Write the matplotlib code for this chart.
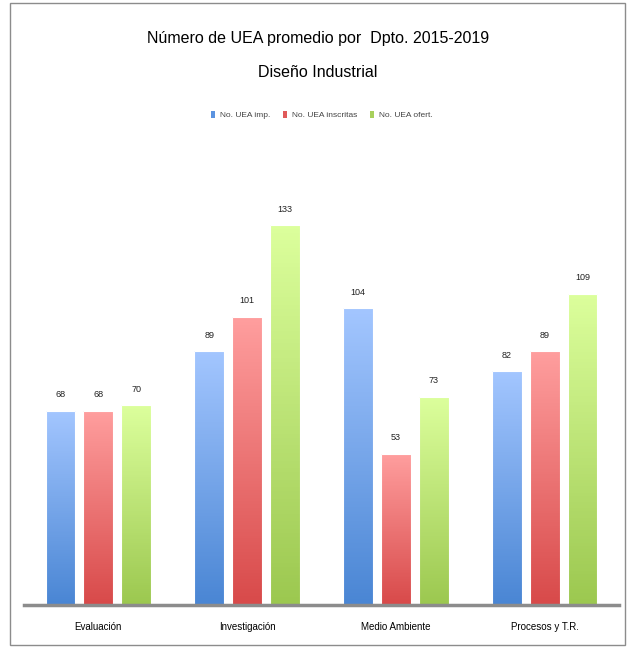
import matplotlib
matplotlib.use("Agg")
import matplotlib.pyplot as plt
import numpy as np
from matplotlib.colors import LinearSegmentedColormap
from matplotlib.patches import Rectangle

plt.rcParams['font.family'] = ['Liberation Sans', 'DejaVu Sans']

categories = ['Evaluación', 'Investigación', 'Medio Ambiente', 'Procesos y T.R.']
series_names = ['No. UEA imp.', 'No. UEA inscritas', 'No. UEA ofert.']
uea_a = [68, 89, 104, 82]
uea_b = [68, 101, 53, 89]
uea_c = [70, 133, 73, 109]
series = [uea_a, uea_b, uea_c]

# top / bottom colors for the gradient fill
grad_colors = [('#a3c6ff', '#4a86d4'),
               ('#ff9e9e', '#d84a4a'),
               ('#dcff9c', '#9cc850')]
legend_colors = ['#5b93e0', '#e05a5a', '#a8d05c']

fig = plt.figure(figsize=(6.31, 6.47), dpi=100)
ax = fig.add_axes([0.038, 0.065, 0.943, 0.719])

x = np.arange(len(categories))
width = 0.2
offsets = [-0.255, 0, 0.255]

for vals, off, (c_top, c_bot), lc, name in zip(series, offsets, grad_colors, legend_colors, series_names):
    cmap = LinearSegmentedColormap.from_list('g', [c_bot, c_top])
    bars = ax.bar(x + off, vals, width, color='none', edgecolor='white', linewidth=0.8, zorder=3)
    ax.bar([0], [0], width, color=lc, label=name)  # legend handle only
    for b, v in zip(bars, vals):
        grad = np.linspace(0, 1, 100).reshape(-1, 1)
        im = ax.imshow(grad, cmap=cmap, aspect='auto', origin='lower',
                       extent=[b.get_x(), b.get_x() + b.get_width(), 0, v], zorder=2)
        im.set_clip_path(b)
        ax.text(b.get_x() + b.get_width() / 2, v + 4, str(v), ha='center', va='bottom',
                fontsize=6.5, color='#222222')

ax.set_xlim(-0.5, 3.5)
ax.set_ylim(0, 163)
ax.set_yticks([])
ax.set_xticks(x)
ax.set_xticklabels(categories, fontsize=7)
ax.tick_params(axis='x', length=0, pad=12)
for s in ['top', 'right', 'left']:
    ax.spines[s].set_visible(False)
ax.spines['bottom'].set_color('#8c8c8c')
ax.spines['bottom'].set_linewidth(2.5)
ax.spines['bottom'].set_zorder(5)

fig.text(0.504, 0.94, 'Número de UEA promedio por  Dpto. 2015-2019', ha='center', va='center', fontsize=11.5)
fig.text(0.504, 0.888, 'Diseño Industrial', ha='center', va='center', fontsize=11.5)

fig.legend(loc='center', bbox_to_anchor=(0.51, 0.822), ncol=3, frameon=False, fontsize=6,
           handlelength=0.5, handleheight=0.9, columnspacing=1.6, handletextpad=0.5,
           labelcolor='#444444')

fig.patches.append(Rectangle((10 / 631, 2 / 647), 615 / 631, 642 / 647, transform=fig.transFigure,
                             fill=False, edgecolor='#8c8c8c', linewidth=1))

fig.savefig('out.png', dpi=100)
